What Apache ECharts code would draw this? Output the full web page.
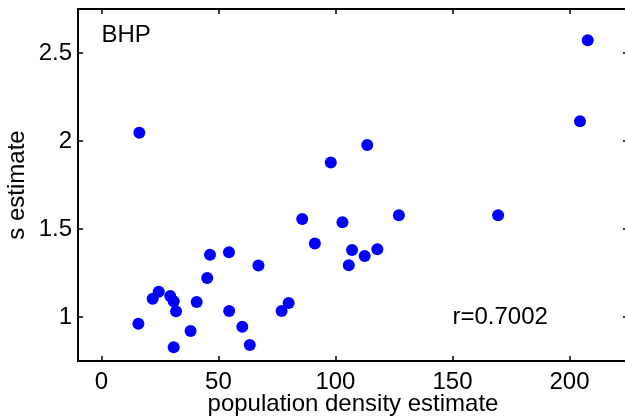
<!DOCTYPE html>
<html>
<head>
<meta charset="utf-8">
<script src="https://cdn.jsdelivr.net/npm/echarts@6/dist/echarts.min.js"></script>
<style>
html,body{margin:0;padding:0;background:#fff;}
#c{width:625px;height:418px;}
</style>
</head>
<body>
<div id="c"></div>
<script>
// Data
const densityValues = [16.2, 207.8, 204.5, 113.6, 98.0, 85.8, 91.2, 46.4, 54.5, 67.1, 45.2, 24.5, 21.9, 29.4, 30.9, 31.9, 40.7, 15.8, 38.1, 30.9, 54.6, 60.2, 63.4, 77.0, 80.0, 103.0, 127.1, 169.5, 107.1, 112.5, 117.9, 105.7];
const sValues = [2.047, 2.572, 2.112, 1.977, 1.878, 1.557, 1.417, 1.354, 1.368, 1.292, 1.222, 1.144, 1.104, 1.119, 1.089, 1.032, 1.085, 0.962, 0.920, 0.828, 1.034, 0.945, 0.841, 1.034, 1.080, 1.539, 1.578, 1.578, 1.381, 1.347, 1.385, 1.294];
const xTicks = [0, 50, 100, 150, 200];
const yTicks = [1, 1.5, 2, 2.5];
const xLabel = 'population density estimate';
const yLabel = 's estimate';
const panelLabel = 'BHP';
const corrLabel = 'r=0.7002';
const panelLabelPos = [0, 2.6];
const corrLabelPos = [150, 1.0];

const points = densityValues.map((x, i) => [x, sValues[i]]);
const FONT = '"Liberation Sans", Arial, Helvetica, sans-serif';

const chart = echarts.init(document.getElementById('c'), null, {renderer: 'canvas'});

function axisCommon(ticks, showLabels) {
  return {
    axisLine: {show: true, onZero: false, lineStyle: {color: '#000', width: 2}},
    axisTick: {show: true, inside: true, length: 5, customValues: ticks, lineStyle: {color: '#000', width: 1.5}},
    axisLabel: {show: showLabels, customValues: ticks, color: '#000', fontSize: 24, fontFamily: FONT},
    splitLine: {show: false}
  };
}

chart.setOption({
  animation: false,
  grid: {left: 78, top: 9, width: 550, height: 352, show: false, containLabel: false, outerBoundsMode: 'none'},
  xAxis: [
    Object.assign({type: 'value', min: -10, max: 225, position: 'bottom',
      name: xLabel, nameLocation: 'middle', nameGap: 31, nameMoveOverlap: false,
      nameTextStyle: {color: '#000', fontSize: 24, fontFamily: FONT}}, axisCommon(xTicks, true),
      {axisLabel: {show: true, customValues: xTicks, color: '#000', fontSize: 24, fontFamily: FONT, margin: 9}}),
    Object.assign({type: 'value', min: -10, max: 225, position: 'top'}, axisCommon(xTicks, false))
  ],
  yAxis: [
    Object.assign({type: 'value', min: 0.75, max: 2.75, position: 'left',
      name: yLabel, nameLocation: 'middle', nameGap: 49, nameRotate: 90, nameMoveOverlap: false,
      nameTextStyle: {color: '#000', fontSize: 24, fontFamily: FONT}}, axisCommon(yTicks, true),
      {axisLabel: {show: true, customValues: yTicks, color: '#000', fontSize: 24, fontFamily: FONT, margin: 6}}),
    Object.assign({type: 'value', min: 0.75, max: 2.75, position: 'right'}, axisCommon(yTicks, false))
  ],
  series: [{
    type: 'scatter',
    data: points,
    symbol: 'circle',
    symbolSize: 12,
    itemStyle: {color: '#0000ff', opacity: 1},
    xAxisIndex: 0, yAxisIndex: 0
  }]
});

const pPanel = chart.convertToPixel({xAxisIndex: 0, yAxisIndex: 0}, panelLabelPos);
const pCorr = chart.convertToPixel({xAxisIndex: 0, yAxisIndex: 0}, corrLabelPos);
chart.setOption({
  graphic: [
    {type: 'text', x: pPanel[0], y: pPanel[1],
     style: {text: panelLabel, fill: '#000', font: '24px ' + FONT, textAlign: 'left', textVerticalAlign: 'middle'}},
    {type: 'text', x: pCorr[0], y: pCorr[1],
     style: {text: corrLabel, fill: '#000', font: '24px ' + FONT, textAlign: 'left', textVerticalAlign: 'middle'}}
  ]
});
</script>
</body>
</html>
